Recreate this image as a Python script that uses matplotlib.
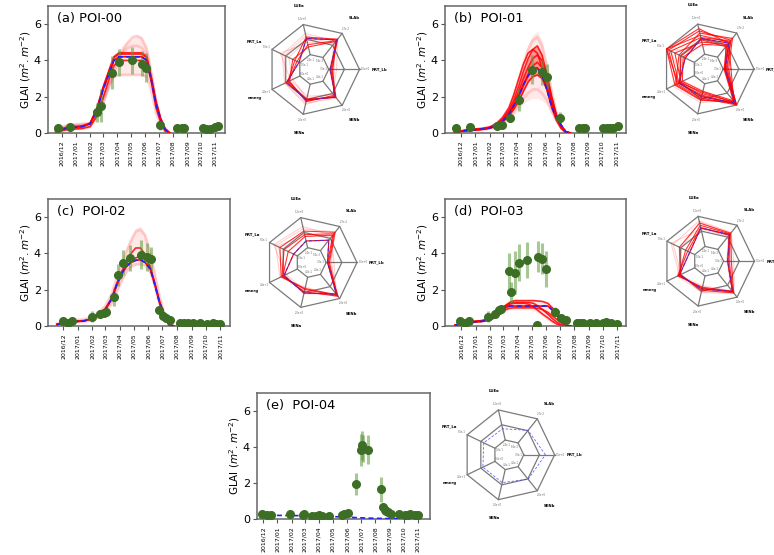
import numpy as np
import pandas as pd
import matplotlib
matplotlib.use("Agg")
import matplotlib.pyplot as plt
import matplotlib.dates as mdates

W, H = 774, 555

# --- model runs (GLAI) sampled on a common date grid ---
MODEL_DATES = pd.to_datetime([
    '2016-11-18', '2016-12-15', '2017-01-15', '2017-02-01', '2017-02-15',
    '2017-03-01', '2017-03-15', '2017-03-25', '2017-04-05', '2017-04-15',
    '2017-04-25', '2017-05-05', '2017-05-15', '2017-05-25', '2017-06-05',
    '2017-06-15', '2017-06-25', '2017-07-05', '2017-07-15', '2017-07-25'])
MONTH_TICKS = pd.date_range('2016-12-01', '2017-11-01', freq='MS')

# POI-00
A_BLUE = [0.1, 0.28, 0.35, 0.5, 1.2, 2.35, 3.3, 4.0, 4.2, 4.2, 4.2, 4.2, 4.2, 4.2, 4.0, 2.9, 1.6, 0.75, 0.2, 0]
A_RED = [
    [0.05, 0.2, 0.25, 0.35, 0.9, 1.9, 3.0, 3.7, 4.0, 4.0, 4.0, 4.0, 4.0, 4.0, 3.85, 2.8, 1.4, 0.6, 0.1, 0],
    [0.12, 0.3, 0.36, 0.52, 1.25, 2.45, 3.45, 4.15, 4.35, 4.35, 4.35, 4.35, 4.35, 4.35, 4.15, 3.0, 1.7, 0.8, 0.22, 0],
    [0.15, 0.33, 0.4, 0.55, 1.3, 2.5, 3.5, 4.2, 4.42, 4.42, 4.42, 4.42, 4.42, 4.42, 4.2, 3.05, 1.75, 0.82, 0.25, 0],
]
A_FAINT = [
    [0.2, 0.45, 0.5, 0.55, 0.9, 1.6, 2.6, 3.3, 4.0, 4.6, 5.0, 5.3, 5.35, 5.2, 4.6, 3.3, 1.8, 0.8, 0.2, 0],
    [0.05, 0.2, 0.25, 0.35, 0.9, 1.8, 2.6, 3.1, 3.2, 3.2, 3.2, 3.2, 3.2, 3.2, 3.1, 2.3, 1.1, 0.45, 0.05, 0],
    [0.15, 0.4, 0.45, 0.5, 1.0, 1.9, 2.9, 3.6, 4.2, 4.5, 4.7, 4.8, 4.8, 4.7, 4.3, 3.1, 1.7, 0.8, 0.2, 0],
]
A_BAND_HI = [0.25, 0.5, 0.55, 0.6, 1.3, 2.5, 3.4, 4.1, 4.6, 4.9, 5.1, 5.3, 5.4, 5.3, 4.8, 3.5, 2.0, 0.9, 0.3, 0]
A_BAND_LO = [0.03, 0.15, 0.2, 0.28, 0.7, 1.5, 2.6, 3.1, 3.2, 3.2, 3.2, 3.2, 3.2, 3.2, 3.1, 2.3, 1.1, 0.4, 0.05, 0]

# POI-01
B_BLUE = [0.05, 0.15, 0.22, 0.28, 0.4, 0.65, 1.05, 1.5, 2.05, 2.65, 3.15, 3.5, 3.6, 3.2, 2.35, 1.45, 0.85, 0.45, 0.08, 0]
B_RED = [
    [0.05, 0.15, 0.22, 0.3, 0.45, 0.75, 1.25, 1.8, 2.6, 3.4, 4.1, 4.6, 4.8, 4.3, 3.2, 2.0, 1.0, 0.4, 0.05, 0],
    [0.05, 0.15, 0.2, 0.28, 0.42, 0.7, 1.15, 1.6, 2.3, 3.0, 3.6, 4.1, 4.3, 4.0, 3.0, 1.9, 1.0, 0.4, 0.05, 0],
    [0.05, 0.14, 0.2, 0.27, 0.4, 0.65, 1.05, 1.45, 2.0, 2.65, 3.25, 3.7, 3.9, 3.6, 2.7, 1.7, 0.9, 0.35, 0.05, 0],
    [0.05, 0.13, 0.2, 0.26, 0.38, 0.6, 0.95, 1.3, 1.75, 2.3, 2.8, 3.1, 3.2, 3.0, 2.4, 1.6, 0.9, 0.35, 0.05, 0],
    [0.06, 0.17, 0.25, 0.33, 0.5, 0.85, 1.4, 2.1, 3.0, 3.8, 4.4, 4.6, 4.4, 3.6, 2.4, 1.4, 0.7, 0.25, 0.03, 0],
]
B_FAINT = [
    [0.08, 0.18, 0.25, 0.33, 0.5, 0.85, 1.4, 2.0, 2.9, 3.8, 4.6, 5.1, 5.3, 4.8, 3.6, 2.2, 1.1, 0.4, 0.05, 0],
    [0.04, 0.12, 0.18, 0.24, 0.35, 0.55, 0.85, 1.15, 1.5, 1.9, 2.2, 2.4, 2.4, 2.2, 1.8, 1.2, 0.7, 0.3, 0.05, 0],
]
B_BAND_HI = [0.1, 0.2, 0.3, 0.38, 0.58, 0.95, 1.55, 2.2, 3.1, 4.0, 4.9, 5.4, 5.6, 5.1, 3.9, 2.5, 1.3, 0.5, 0.1, 0]
B_BAND_LO = [0.02, 0.1, 0.15, 0.2, 0.3, 0.5, 0.75, 1.0, 1.3, 1.6, 1.8, 1.9, 1.9, 1.8, 1.5, 1.0, 0.5, 0.2, 0.02, 0]

# POI-02
C_BLUE = [0.08, 0.22, 0.28, 0.4, 0.6, 0.9, 1.5, 2.25, 2.9, 3.3, 3.5, 3.62, 3.65, 3.5, 3.15, 2.25, 1.25, 0.6, 0.05, 0]
C_RED = [
    [0.1, 0.25, 0.3, 0.42, 0.62, 0.95, 1.55, 2.3, 3.0, 3.55, 4.0, 4.3, 4.3, 3.95, 3.2, 2.3, 1.3, 0.6, 0.06, 0],
    [0.08, 0.22, 0.28, 0.4, 0.6, 0.9, 1.5, 2.2, 2.85, 3.25, 3.55, 3.75, 3.85, 3.75, 3.25, 2.35, 1.35, 0.65, 0.08, 0],
]
C_FAINT = [
    [0.15, 0.3, 0.38, 0.5, 0.75, 1.1, 1.8, 2.6, 3.4, 4.1, 4.7, 5.2, 5.3, 5.0, 4.0, 2.8, 1.6, 0.7, 0.15, 0],
    [0.08, 0.2, 0.26, 0.36, 0.52, 0.8, 1.3, 1.9, 2.5, 3.0, 3.3, 3.4, 3.4, 3.35, 3.0, 2.2, 1.2, 0.5, 0.06, 0],
]
C_BAND_HI = [0.2, 0.35, 0.42, 0.55, 0.8, 1.2, 1.9, 2.7, 3.5, 4.3, 4.9, 5.4, 5.5, 5.1, 4.2, 3.0, 1.7, 0.8, 0.2, 0]
C_BAND_LO = [0.05, 0.15, 0.2, 0.3, 0.45, 0.7, 1.1, 1.7, 2.4, 2.9, 3.2, 3.35, 3.4, 3.3, 2.8, 1.9, 1.0, 0.4, 0.03, 0]

# POI-03
D_BLUE = [0.05, 0.2, 0.26, 0.36, 0.55, 0.95, 1.1, 1.1, 1.1, 1.1, 1.1, 1.1, 1.1, 1.1, 1.1, 0.88, 0.6, 0.25, 0, 0]
D_RED = [
    [0.05, 0.22, 0.3, 0.4, 0.62, 1.05, 1.3, 1.4, 1.4, 1.4, 1.4, 1.4, 1.38, 1.35, 1.25, 1.0, 0.7, 0.35, 0.05, 0],
    [0.05, 0.2, 0.28, 0.38, 0.58, 1.0, 1.2, 1.25, 1.25, 1.25, 1.2, 1.05, 0.85, 0.65, 0.45, 0.25, 0.1, 0.02, 0, 0],
    [0.04, 0.18, 0.25, 0.34, 0.5, 0.85, 0.98, 1.0, 1.0, 1.0, 1.0, 1.0, 0.98, 0.9, 0.75, 0.55, 0.35, 0.15, 0, 0],
    [0.05, 0.21, 0.3, 0.4, 0.6, 1.02, 1.25, 1.3, 1.3, 1.3, 1.3, 1.25, 1.1, 0.9, 0.65, 0.4, 0.2, 0.05, 0, 0],
]
D_FAINT = []
D_BAND_HI = [0.08, 0.25, 0.33, 0.45, 0.68, 1.1, 1.35, 1.42, 1.42, 1.42, 1.42, 1.42, 1.4, 1.38, 1.3, 1.05, 0.75, 0.4, 0.08, 0]
D_BAND_LO = [0.03, 0.15, 0.22, 0.3, 0.45, 0.8, 0.9, 0.9, 0.9, 0.9, 0.9, 0.85, 0.7, 0.5, 0.3, 0.12, 0.03, 0, 0, 0]

# POI-04 (only the median run)
E_DATES = pd.to_datetime(['2016-11-25', '2017-01-15', '2017-03-01', '2017-04-15', '2017-06-01',
                          '2017-07-15', '2017-09-01', '2017-10-15', '2017-11-01'])
E_BLUE = [0.2, 0.2, 0.18, 0.15, 0.1, 0.05, 0.02, 0.01, 0.01]

# --- observations (GLAI and its uncertainty) ---
A_OBS_DATES = ['2016-11-22', '2016-12-19', '2017-02-16', '2017-02-25', '2017-03-21', '2017-04-05',
               '2017-05-04', '2017-05-25', '2017-06-04', '2017-07-04', '2017-08-11', '2017-08-21',
               '2017-08-26', '2017-10-06', '2017-10-13', '2017-10-21', '2017-11-02', '2017-11-07']
A_OBS = [0.27, 0.35, 1.13, 1.5, 3.33, 3.9, 4.0, 3.82, 3.6, 0.42, 0.27, 0.27, 0.3, 0.27, 0.24, 0.24, 0.33, 0.38]
A_ERR = [0.15, 0.15, 0.5, 0.9, 0.9, 0.75, 0.75, 0.7, 0.8, 0.25, 0.12, 0.12, 0.12, 0.12, 0.12, 0.12, 0.15, 0.15]

B_OBS_DATES = ['2016-11-20', '2016-12-20', '2017-02-17', '2017-02-27', '2017-03-16', '2017-04-05',
               '2017-05-04', '2017-05-25', '2017-06-04', '2017-07-03', '2017-08-13', '2017-08-21',
               '2017-08-26', '2017-10-04', '2017-10-11', '2017-10-18', '2017-10-25', '2017-11-04']
B_OBS = [0.27, 0.33, 0.4, 0.45, 0.82, 1.8, 3.5, 3.35, 3.1, 0.83, 0.3, 0.27, 0.27, 0.3, 0.27, 0.27, 0.3, 0.4]
B_ERR = [0.15, 0.15, 0.15, 0.15, 0.2, 0.6, 0.8, 0.7, 0.7, 0.3, 0.12, 0.12, 0.12, 0.12, 0.12, 0.12, 0.12, 0.15]

C_OBS_DATES = ['2016-12-01', '2016-12-12', '2016-12-21', '2017-02-01', '2017-02-18', '2017-02-27',
               '2017-03-03', '2017-03-19', '2017-03-29', '2017-04-07', '2017-04-23', '2017-05-17',
               '2017-05-28', '2017-06-06', '2017-06-23', '2017-07-03', '2017-07-09', '2017-07-17',
               '2017-08-07', '2017-08-15', '2017-08-24', '2017-09-04', '2017-09-18', '2017-10-03',
               '2017-10-17', '2017-10-24', '2017-11-01']
C_OBS = [0.26, 0.17, 0.26, 0.5, 0.65, 0.74, 0.78, 1.6, 2.83, 3.5, 3.74, 3.93, 3.8, 3.68, 0.9, 0.54,
         0.44, 0.31, 0.17, 0.17, 0.17, 0.17, 0.17, 0.13, 0.17, 0.13, 0.13]
C_ERR = [0.15, 0.12, 0.15, 0.3, 0.2, 0.2, 0.2, 0.5, 0.6, 0.7, 0.7, 0.8, 0.75, 0.7, 0.15, 0.15,
         0.12, 0.12, 0.1, 0.1, 0.1, 0.1, 0.1, 0.1, 0.1, 0.1, 0.1]

D_OBS_DATES = ['2016-11-28', '2016-12-08', '2016-12-18', '2017-01-28', '2017-02-12', '2017-02-21',
               '2017-02-25', '2017-03-13', '2017-03-17', '2017-03-26', '2017-04-04', '2017-04-22',
               '2017-05-12', '2017-05-15', '2017-05-24', '2017-06-01', '2017-06-21', '2017-07-03',
               '2017-07-14', '2017-08-06', '2017-08-13', '2017-08-20', '2017-09-03', '2017-09-17',
               '2017-10-01', '2017-10-08', '2017-10-18', '2017-11-01']
D_OBS = [0.26, 0.19, 0.26, 0.5, 0.68, 0.87, 0.96, 3.04, 1.85, 2.94, 3.5, 3.65, 0.04, 3.83, 3.7,
         3.13, 0.78, 0.46, 0.31, 0.17, 0.17, 0.17, 0.17, 0.17, 0.15, 0.2, 0.17, 0.13]
D_ERR = [0.12, 0.1, 0.12, 0.3, 0.15, 0.2, 0.2, 1.0, 0.6, 1.2, 1.0, 1.0, 0.05, 0.85, 0.85, 1.0,
         0.25, 0.15, 0.12, 0.1, 0.1, 0.1, 0.1, 0.1, 0.1, 0.1, 0.1, 0.1]

E_OBS_DATES = ['2016-11-29', '2016-12-09', '2016-12-18', '2017-01-28', '2017-02-26', '2017-02-28',
               '2017-03-16', '2017-03-25', '2017-04-01', '2017-04-08', '2017-04-22', '2017-05-21',
               '2017-05-26', '2017-06-03', '2017-06-20', '2017-07-01', '2017-07-04', '2017-07-06',
               '2017-07-15', '2017-08-12', '2017-08-17', '2017-08-21', '2017-08-24', '2017-08-28',
               '2017-09-03', '2017-09-20', '2017-10-05', '2017-10-11', '2017-10-15', '2017-10-26',
               '2017-11-01']
E_OBS = [0.28, 0.2, 0.2, 0.28, 0.2, 0.26, 0.17, 0.18, 0.2, 0.18, 0.18, 0.24, 0.28, 0.33, 1.93,
         3.83, 4.1, 3.92, 3.86, 1.66, 0.64, 0.52, 0.42, 0.37, 0.28, 0.28, 0.22, 0.24, 0.26, 0.22, 0.2]
E_ERR = [0.1, 0.1, 0.1, 0.1, 0.1, 0.1, 0.1, 0.1, 0.1, 0.1, 0.1, 0.1, 0.1, 0.1, 0.6,
         0.9, 0.8, 0.75, 0.8, 0.7, 0.15, 0.12, 0.12, 0.1, 0.1, 0.1, 0.1, 0.1, 0.1, 0.1, 0.1]

# --- radar (normalised parameter values, outer ring = 1) ---
RADAR_VARS = ['PRT_Lb', 'SLAb', 'LUEa', 'PRT_La', 'emerg', 'SENa', 'SENb']
RADAR_OUTER = ['1.5e+0', '2.7e-2', '1.2e+0', '5.0e-1', '4.0e+1', '2.0e+0', '2.0e+0']
RADAR_INNER = ['3.0e-1', '5.4e-3', '2.4e-1', '1.0e-1', '8.0e+0', '4.0e-1', '4.0e-1']

RA_BLUE = [0.36, 0.82, 0.69, 0.35, 0.65, 0.68, 0.77]
RA_RED = [[0.38, 0.80, 0.55, 0.40, 0.60, 0.70, 0.75],
          [0.40, 0.84, 0.72, 0.45, 0.62, 0.66, 0.78],
          [0.42, 0.78, 0.50, 0.50, 0.58, 0.72, 0.72]]
RA_FAINT = [[0.45, 0.75, 0.60, 0.80, 0.55, 0.60, 0.70],
            [0.40, 0.70, 0.75, 0.70, 0.68, 0.75, 0.80],
            [0.50, 0.85, 0.65, 0.60, 0.50, 0.65, 0.68],
            [0.35, 0.78, 0.80, 0.75, 0.70, 0.78, 0.74]]

RB_BLUE = [0.38, 0.72, 0.68, 0.55, 0.70, 0.62, 0.95]
RB_RED = [[0.36, 0.75, 0.75, 1.00, 0.72, 0.60, 0.97],
          [0.40, 0.80, 0.85, 0.95, 0.75, 0.65, 1.00],
          [0.38, 0.68, 0.60, 0.80, 0.65, 0.55, 0.92],
          [0.45, 0.85, 0.80, 0.70, 0.78, 0.68, 0.95],
          [0.35, 0.65, 0.55, 0.60, 0.62, 0.50, 0.88],
          [0.42, 0.78, 0.70, 0.90, 0.70, 0.58, 0.98],
          [0.50, 0.72, 0.90, 1.00, 0.80, 0.70, 0.90],
          [0.37, 0.62, 0.65, 0.65, 0.68, 0.52, 0.93]]
RB_FAINT = [[0.45, 0.70, 0.85, 0.55, 0.85, 0.75, 0.86],
            [0.33, 0.88, 0.50, 0.90, 0.60, 0.48, 1.00]]

RC_BLUE = [0.36, 0.62, 0.48, 0.42, 0.65, 0.68, 0.88]
RC_RED = [[0.38, 0.80, 0.62, 0.65, 0.70, 0.60, 0.92],
          [0.40, 0.84, 0.70, 0.75, 0.72, 0.58, 0.90],
          [0.36, 0.76, 0.58, 0.55, 0.68, 0.65, 0.94]]
RC_FAINT = [[0.45, 0.75, 0.80, 0.90, 0.62, 0.70, 0.86],
            [0.42, 0.85, 0.75, 0.85, 0.75, 0.55, 0.95],
            [0.50, 0.70, 0.65, 0.80, 0.60, 0.62, 0.88]]

RD_BLUE = [0.42, 0.74, 0.74, 0.45, 0.70, 0.62, 0.84]
RD_RED = [[0.45, 0.76, 0.80, 0.55, 0.72, 0.60, 0.86],
          [0.50, 0.78, 0.85, 0.70, 0.68, 0.65, 0.88],
          [0.42, 0.72, 0.75, 0.50, 0.74, 0.58, 0.84]]
RD_FAINT = [[0.55, 0.80, 0.90, 0.85, 0.66, 0.70, 0.90],
            [0.40, 0.70, 0.72, 0.90, 0.70, 0.55, 0.82],
            [0.48, 0.74, 0.88, 0.65, 0.75, 0.68, 0.87]]

RE_BLUE = [0.80, 0.68, 0.58, 0.60, 0.62, 0.62, 0.68]

RINGS = [0.33, 0.67, 1.0]

fig = plt.figure(figsize=(W / 100, H / 100), dpi=100)


def px_rect(left, top, right, bottom):
    return [left / W, 1 - bottom / H, (right - left) / W, (bottom - top) / H]


def series_panel(box, title, xlim, obs_d, obs, err, dates, blue, red, faint, band):
    ax = fig.add_axes(px_rect(*box))
    if band is not None:
        ax.fill_between(dates, band[0], band[1], color='red', alpha=0.09, lw=0, zorder=1)
    for line in faint:
        ax.plot(dates, line, color='red', alpha=0.15, lw=2.0, zorder=1.5)
    for line in red:
        ax.plot(dates, line, color='red', alpha=0.85, lw=1.2, zorder=2)
    od = pd.to_datetime(obs_d)
    ax.vlines(od, np.array(obs) - np.array(err), np.array(obs) + np.array(err),
              color='#5f9a3c', alpha=0.55, lw=2.2, zorder=2.5)
    if red:
        ax.plot(dates, blue, color='red', lw=1.2, zorder=2.8)
    ax.plot(dates, blue, color='#2020ff', ls=(0, (3, 2)), lw=1.2, zorder=3)
    ax.plot(od, obs, 'o', color='#3c6e26', ms=5.5, zorder=4)

    ax.set_xlim(pd.Timestamp(xlim[0]), pd.Timestamp(xlim[1]))
    ax.set_ylim(0, 7)
    ax.set_yticks([0, 2, 4, 6])
    ax.set_xticks(MONTH_TICKS)
    ax.xaxis.set_major_formatter(mdates.DateFormatter('%Y/%m'))
    ax.tick_params(axis='x', labelsize=4.5, rotation=90, length=3, color='#555555', pad=2)
    ax.tick_params(axis='y', labelsize=8, length=3, color='#555555', pad=2)
    for s in ax.spines.values():
        s.set_color('#666666')
        s.set_linewidth(1.1)
    ax.set_ylabel('GLAI ($m^2.m^{-2}$)', fontsize=7.5, labelpad=1)
    ax.text(0.05, 0.95, title, transform=ax.transAxes, fontsize=9.3, va='top', ha='left')
    return ax


def radar_panel(cx, cy, blue, red, faint, dashed_only=False):
    R = 46.0
    half = 1.7
    ax = fig.add_axes([(cx - half * R) / W, 1 - (cy + half * R) / H, 2 * half * R / W, 2 * half * R / H])
    ax.set_xlim(-half, half)
    ax.set_ylim(-half, half)
    ax.axis('off')
    ang = np.deg2rad(np.arange(len(RADAR_VARS)) * 360.0 / len(RADAR_VARS))
    closed = np.append(ang, ang[0])
    for r in RINGS:
        ax.plot(r * np.cos(closed), r * np.sin(closed), color='#7a7a7a', lw=0.9, zorder=1)
    for a in ang:
        ax.plot([RINGS[0] * np.cos(a), np.cos(a)], [RINGS[0] * np.sin(a), np.sin(a)],
                color='#7a7a7a', lw=0.9, zorder=1)

    def poly(vals, **kw):
        v = np.append(vals, vals[0])
        ax.plot(v * np.cos(closed), v * np.sin(closed), **kw)

    for vals in faint:
        poly(vals, color='red', alpha=0.18, lw=0.8, zorder=2)
    for vals in red:
        poly(vals, color='red', alpha=0.8, lw=0.8, zorder=3)
    if dashed_only:
        poly(blue, color='#4040ff', ls=(0, (3, 2)), lw=0.6, alpha=0.8, zorder=4)
    else:
        poly(blue, color='red', lw=0.8, zorder=3.5)
        poly(blue, color='#3030ff', ls=(0, (3, 2)), lw=0.8, alpha=0.8, zorder=4)

    for a, name, lo, hi in zip(ang, RADAR_VARS, RADAR_INNER, RADAR_OUTER):
        if np.isclose(a, 0.0):
            ax.text(1.26, 0.0, name, fontsize=2.8, fontweight='bold', ha='left', va='center')
        else:
            ax.text(1.42 * np.cos(a), 1.42 * np.sin(a), name, fontsize=2.8, fontweight='bold',
                    ha='center', va='center')
        ax.text(1.13 * np.cos(a), 1.13 * np.sin(a), hi, fontsize=1.8, color='#666666',
                ha='center', va='center')
        ax.text(0.22 * np.cos(a), 0.22 * np.sin(a), lo, fontsize=1.8, color='#666666',
                ha='center', va='center')
    return ax


series_panel((48, 6, 225, 133), '(a) POI-00', ('2016-11-01', '2017-11-23'),
             A_OBS_DATES, A_OBS, A_ERR, MODEL_DATES, A_BLUE, A_RED, A_FAINT, (A_BAND_LO, A_BAND_HI))
radar_panel(313.5, 69.4, RA_BLUE, RA_RED, RA_FAINT)

ax_b = series_panel((445, 6, 626, 133), '(b)  POI-01', ('2016-10-28', '2017-11-22'),
                    B_OBS_DATES, B_OBS, B_ERR, MODEL_DATES, B_BLUE, B_RED, B_FAINT, (B_BAND_LO, B_BAND_HI))
ax_b.fill_between(MODEL_DATES, B_RED[3], B_RED[0], color='red', alpha=0.35, lw=0, zorder=1.8)
radar_panel(708, 69, RB_BLUE, RB_RED, RB_FAINT)

series_panel((48, 199, 230, 326), '(c)  POI-02', ('2016-10-30', '2017-11-22'),
             C_OBS_DATES, C_OBS, C_ERR, MODEL_DATES, C_BLUE, C_RED, C_FAINT, (C_BAND_LO, C_BAND_HI))
radar_panel(311, 262.5, RC_BLUE, RC_RED, RC_FAINT)

series_panel((445, 199, 626, 326), '(d)  POI-03', ('2016-10-27', '2017-11-20'),
             D_OBS_DATES, D_OBS, D_ERR, MODEL_DATES, D_BLUE, D_RED, D_FAINT, (D_BAND_LO, D_BAND_HI))
radar_panel(708.4, 261.2, RD_BLUE, RD_RED, RD_FAINT)

series_panel((257, 393, 430, 519), '(e)  POI-04', ('2016-11-18', '2017-11-27'),
             E_OBS_DATES, E_OBS, E_ERR, E_DATES, E_BLUE, [], [], None)
radar_panel(508.6, 454.8, RE_BLUE, [], [], dashed_only=True)

fig.savefig('out.png', dpi=100)
